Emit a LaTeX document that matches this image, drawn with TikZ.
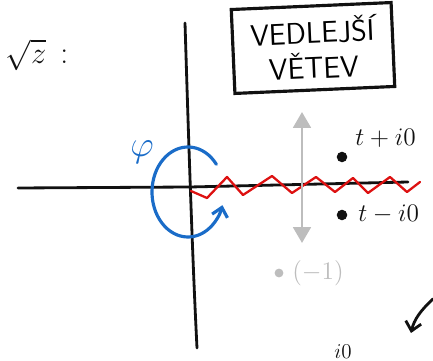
\documentclass[tikz,border=0pt]{standalone}
\usepackage{tikz}
\usepackage{amsmath}
\usetikzlibrary{arrows.meta, calc}
\definecolor{skInk}{HTML}{111111}
\definecolor{skBlue}{HTML}{1A6CC8}
\definecolor{skRed}{HTML}{DD1111}
\definecolor{skGray}{HTML}{BDBDBD}
\tikzset{
  pen/.style={line width=1.6pt, line cap=round, line join=round},
  axisline/.style={pen, draw=skInk},
  cutline/.style={pen, draw=skRed, line width=1.3pt},
  sketchtext/.style={inner sep=0pt, font=\fontsize{15}{18}\selectfont, text=skInk},
  dotmark/.style={circle, fill=#1, inner sep=0pt, minimum size=6pt},
  boxnote/.style={draw=skInk, line width=1.8pt, align=center, inner sep=0pt,
                  minimum width=3.2cm, minimum height=1.68cm,
                  font=\sffamily\fontsize{17}{20}\selectfont},
}
\begin{document}
\begin{tikzpicture}[x=0.02cm, y=-0.02cm]
  \useasboundingbox (0,0) rectangle (433,361);
  % axes
  \coordinate (vtop) at (185,23);
  \coordinate (vbot) at (197,348);
  \coordinate (hleft) at (18,188);
  \coordinate (origin) at (190,187);
  \coordinate (hright) at (408,182);
  \draw[axisline] (vtop) .. controls (188,120) and (192,250) .. (vbot);
  \draw[axisline] (hleft) -- (origin) -- (hright);
  % branch cut
  \draw[cutline] (191,191) -- (207,198) -- (227,177) -- (243,195) -- (272,176)
    -- (292,193) -- (316,177) -- (335,192) -- (353,178) -- (368,193)
    -- (390,177) -- (407,192) -- (420,182);
  % angle
  \coordinate (phic) at (188,192);
  \draw[pen, draw=skBlue, line width=1.8pt, -{Straight Barb[length=5pt, width=9pt]}]
    ($(phic)+(-38:36 and 45)$) arc[start angle=-38, end angle=-343,
    x radius=36, y radius=45];
  \node[text=skBlue, font=\fontsize{21}{21}\selectfont] (phi) at (142,152) {$\varphi$};
  \node[sketchtext, font=\fontsize{18}{20}\selectfont] (root) at (37,55) {$\sqrt{z}$\;\,:};
  % note
  \node[boxnote, rotate=2.5] (branch) at (313,48) {VEDLEJŠÍ\\VĚTEV};
  % gray jump
  \coordinate (jtop) at (302,112);
  \coordinate (jbot) at (302,243);
  \draw[pen, draw=skGray, {Triangle[length=9pt, width=10pt]}-{Triangle[length=9pt, width=10pt]}]
    (jtop) -- (jbot);
  \node[dotmark=skGray, minimum size=5pt] (minusone) at (279,273) {};
  \node[sketchtext, text=skGray, anchor=west] (minusonelab) at (292,273) {$(-1)$};
  % points
  \node[dotmark=skInk] (tplus) at (342,157) {};
  \node[sketchtext, anchor=west] (tpluslab) at (355,138) {$t+i0$};
  \node[dotmark=skInk] (tminus) at (342,215) {};
  \node[sketchtext, anchor=west] (tminuslab) at (358,214) {$t-i0$};
  % bottom corner
  \coordinate (cornerstart) at (433,299);
  \coordinate (cornerend) at (411,333);
  \draw[pen, draw=skInk, -{Straight Barb[length=5pt, width=9pt]}]
    (cornerstart) .. controls (420,311) and (414,320) .. (cornerend);
  \node[sketchtext, font=\fontsize{12}{14}\selectfont, anchor=south west] (cutlab) at (334,359) {$i0$};
\end{tikzpicture}
\end{document}
